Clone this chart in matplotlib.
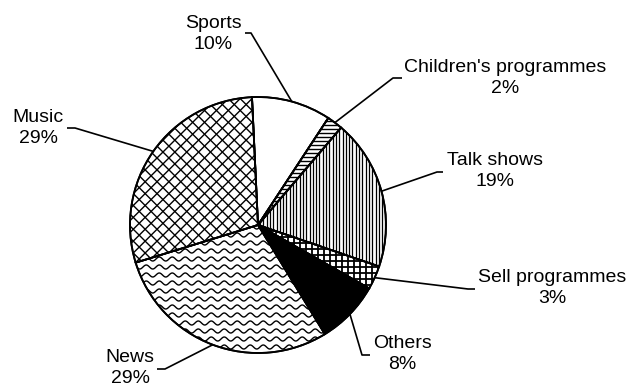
import numpy as np
import matplotlib
matplotlib.use("Agg")
import matplotlib.pyplot as plt
from matplotlib.collections import LineCollection
from matplotlib.patches import Wedge

categories = ["Sports", "Children's programmes", "Talk shows", "Sell programmes",
              "Others", "News", "Music"]
values = [10, 2, 19, 3, 8, 29, 29]
pct_labels = ["10%", "2%", "19%", "3%", "8%", "29%", "29%"]

W, H = 628, 387
fig = plt.figure(figsize=(W / 100, H / 100), dpi=100)
ax = fig.add_axes([0, 0, 1, 1])

cx, cy, R = 258, H - 225, 128
facecolors = ["white", "white", "white", "white", "black", "white", "white"]
wedges, _ = ax.pie(values, center=(cx, cy), radius=R, startangle=92.7,
                   counterclock=False, colors=facecolors, frame=True,
                   wedgeprops=dict(edgecolor="black", linewidth=1.3))
ax.set_xlim(0, W)
ax.set_ylim(0, H)
ax.set_aspect("equal")
ax.axis("off")


def line_family(wedge, angle_deg, spacing, lw, color="black"):
    a = np.deg2rad(angle_deg)
    d = np.array([np.cos(a), np.sin(a)])
    n = np.array([-np.sin(a), np.cos(a)])
    segs = []
    L = 2 * R + 20
    for k in np.arange(-L, L, spacing):
        p0 = np.array([cx, cy]) + n * k - d * L
        p1 = np.array([cx, cy]) + n * k + d * L
        segs.append([p0, p1])
    lc = LineCollection(segs, colors=color, linewidths=lw, zorder=1.5)
    ax.add_collection(lc)
    lc.set_clip_path(wedge)


def waves(wedge, spacing, period, amp, lw):
    xs = np.linspace(cx - R - 10, cx + R + 10, 800)
    segs = []
    for y0 in np.arange(cy - R - 10, cy + R + 10, spacing):
        ys = y0 + amp * np.sin(2 * np.pi * xs / period)
        segs.append(np.column_stack([xs, ys]))
    lc = LineCollection(segs, colors="black", linewidths=lw, zorder=1.5)
    ax.add_collection(lc)
    lc.set_clip_path(wedge)


# Children's: horizontal lines
line_family(wedges[1], 0, 4.0, 1.0)
# Talk shows: vertical lines
line_family(wedges[2], 90, 3.3, 0.9)
# Sell programmes: grid
line_family(wedges[3], 0, 6.0, 1.3)
line_family(wedges[3], 90, 6.0, 1.3)
# News: waves
waves(wedges[5], 8.0, 13.0, 2.0, 1.0)
# Music: diagonal crosshatch
line_family(wedges[6], 45, 8.4, 1.0)
line_family(wedges[6], -45, 8.4, 1.0)

# redraw edges on top
for w in wedges:
    e = Wedge(w.center, w.r, w.theta1, w.theta2, fill=False,
              edgecolor="black", linewidth=1.3, zorder=3)
    ax.add_patch(e)

# label positions (pixel coordinates of text centre) and leader elbow
label_pos = [(213, 34), (505, 78), (495, 171), (552, 288), (402, 354), (130, 368), (38, 128)]
elbows = [((245, 33), (251, 33)), ((402, 78), (393, 78)), ((443, 172), (437, 172)),
          ((475, 289), (468, 289)), ((370, 355), (362, 355)), ((157, 369), (165, 369)),
          ((67, 128), (75, 128))]

for w, cat, pl, (tx, ty), (e0, e1) in zip(wedges, categories, pct_labels, label_pos, elbows):
    mid = np.deg2rad((w.theta1 + w.theta2) / 2)
    ex, ey = cx + R * np.cos(mid), cy + R * np.sin(mid)
    ax.plot([e0[0], e1[0], ex], [H - e0[1], H - e1[1], ey], color="black",
            lw=1.2, solid_capstyle="butt", zorder=4)
    ax.text(tx, H - ty, f"{cat}\n{pl}", ha="center", va="center",
            fontsize=14, family="Liberation Sans", linespacing=1.3, zorder=5)

fig.savefig("out.png", dpi=100)
